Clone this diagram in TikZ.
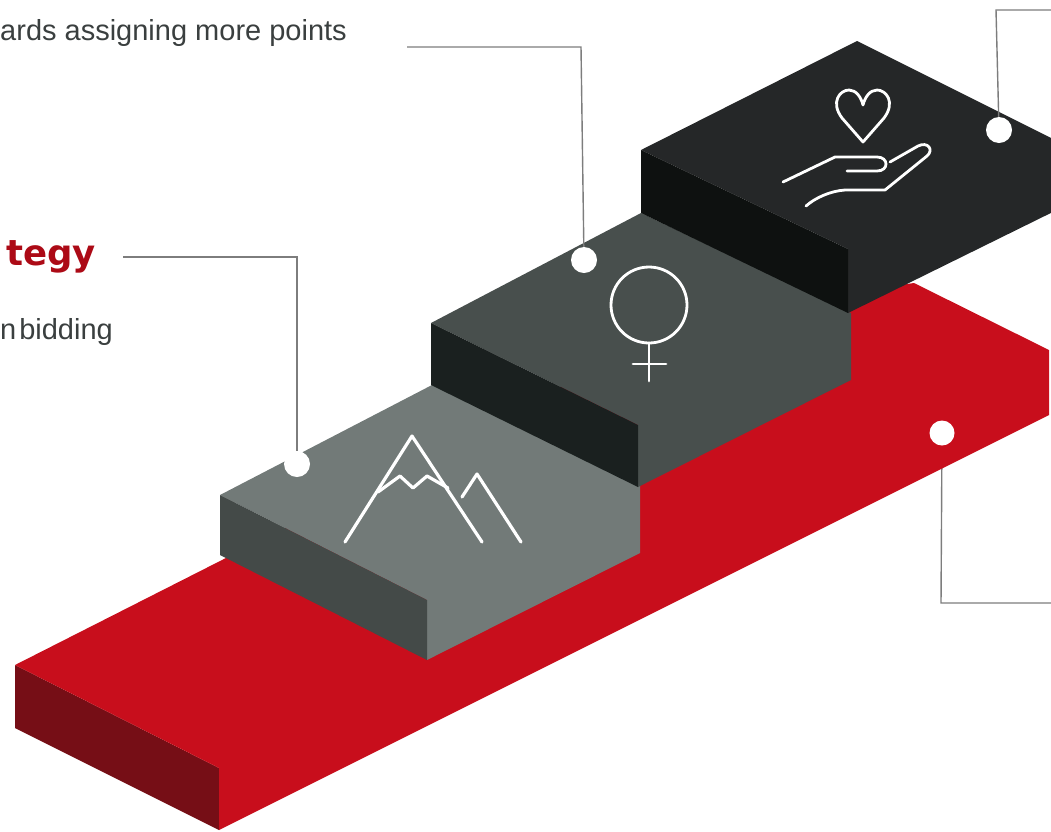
\documentclass[tikz,border=0pt]{standalone}
\usepackage{fontspec}
\setmainfont{Liberation Sans}
\newfontfamily\headfont{DejaVu Sans}
\definecolor{slabred}{RGB}{200,14,28}
\definecolor{slabdark}{RGB}{118,14,22}
\definecolor{stepatop}{RGB}{114,122,120}
\definecolor{stepaside}{RGB}{68,74,72}
\definecolor{stepbtop}{RGB}{72,79,77}
\definecolor{stepbside}{RGB}{26,32,31}
\definecolor{stepctop}{RGB}{37,39,40}
\definecolor{stepcside}{RGB}{14,17,16}
\definecolor{leadgray}{RGB}{125,125,125}
\definecolor{bodygray}{RGB}{58,63,63}
\definecolor{headred}{RGB}{172,10,22}
\tikzset{
  marker/.style={circle,fill=white,minimum size=26,inner sep=0},
  leader/.style={draw=leadgray,line width=1.4},
  icon/.style={draw=white,line width=3.2,line join=round,line cap=round},
  thinicon/.style={icon,line width=2.8},
  bodytext/.style={text=bodygray,font=\fontsize{29}{34}\selectfont,anchor=base east,inner sep=0},
}
\begin{document}
\begin{tikzpicture}[x=1pt,y=-1pt]
\useasboundingbox (0,0) rectangle (1051,831);
\clip (0,0) rectangle (1051,831);
% Lower right marker and its leader, which runs behind the slab
\node[marker,minimum size=25] (mark4) at (942,433) {};
\coordinate (end4) at (1051,603);
\draw[leader] (mark4) -- (941,603) -- (end4);
% Red slab
\fill[slabdark] (15,665) -- (219,768) -- (219,830) -- (15,728) -- cycle;
\fill[slabred] (15,665) -- (222,560) -- (700,315) -- (914,283) -- (1049,350) -- (1049,415) -- (219,830) -- (219,768) -- cycle;
\node[marker,minimum size=25] at (mark4) {};
% Step 1
\fill[stepatop] (220,495) -- (432,385) -- (640,485) -- (640,553) -- (427,660) -- (427,600) -- cycle;
\fill[stepaside] (220,495) -- (427,600) -- (427,660) -- (220,555) -- cycle;
% Step 2
\fill[stepbtop] (431,323) -- (641,213) -- (851,313) -- (851,380) -- (638,487) -- (638,425) -- cycle;
\fill[stepbside] (431,323) -- (638,425) -- (638,487) -- (431,385) -- cycle;
% Step 3
\fill[stepctop] (641,150) -- (857,41) -- (1065,145) -- (1065,206) -- (848,313) -- (848,249) -- cycle;
\fill[stepcside] (641,150) -- (848,249) -- (848,313) -- (641,213) -- cycle;
% Mountains
\draw[icon] (345,542) -- (412,436) -- (482,542);
\draw[icon] (378,492) -- (400,476) -- (413,488) -- (427,476) -- (448,488);
\draw[icon] (462,497) -- (477,474) -- (521,542);
% Venus
\draw[thinicon] (649,305) circle (38);
\draw[thinicon] (649,343) -- (649,381);
\draw[thinicon] (633,364) -- (666,364);
% Heart and hand
\draw[thinicon] (863,142) -- (842,118) .. controls (830,102) and (840,90) .. (849,90)
  .. controls (856,90) and (861,97) .. (863,105) .. controls (865,97) and (870,90) .. (877,90)
  .. controls (886,90) and (896,102) .. (884,118) -- cycle;
\draw[thinicon] (783,182) -- (835,157) -- (877,157) .. controls (889,157) and (889,171) .. (877,171) -- (847,171);
\draw[thinicon] (890,162) -- (918,146) .. controls (928,141) and (934,150) .. (927,156) -- (885,190) -- (845,190)
  .. controls (830,191) and (815,198) .. (806,206);
% Texts
\node[bodytext] (points) at (347,40) {ards assigning more points};
\node[bodytext] (bidding) at (113,339) {n\hspace{-5pt} bidding};
\node[text=headred,font=\headfont\bfseries\fontsize{35.5}{42}\selectfont,anchor=base east,inner sep=0] (strategy) at (96,265) {tegy};
% Markers
\node[marker] (mark1) at (297,464) {};
\node[marker] (mark2) at (584,260) {};
\node[marker] (mark3) at (999,130) {};
\coordinate (end1) at (123,257);
\coordinate (end2) at (407,47);
\coordinate (end3) at (1051,10);
% Leaders
\draw[leader] (end1) -- (297,257) -- (mark1);
\draw[leader] (end2) -- (581,47) -- (mark2);
\draw[leader] (end3) -- (996,10) -- (mark3);
\end{tikzpicture}
\end{document}
